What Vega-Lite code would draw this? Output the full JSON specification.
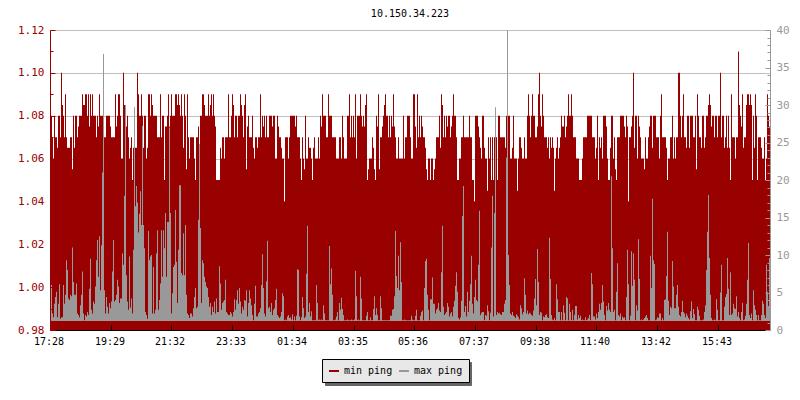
{"$schema":"https://vega.github.io/schema/vega-lite/v6.json","width":720,"height":300,"autosize":"none","padding":{"left":50,"top":30,"right":30,"bottom":70},"background":"white","title":{"text":"10.150.34.223","font":"DejaVu Sans Mono","fontSize":10,"fontWeight":"normal","color":"black","anchor":"middle","offset":5},"config":{"view":{"stroke":null},"axis":{"labelFont":"DejaVu Sans Mono","labelFontSize":11}},"data":{"values":[
{"t":0,"min":1.08,"max":1.3},{"t":1,"min":1.08,"max":6},{"t":2,"min":1.07,"max":2.2},{"t":3,"min":1.06,"max":1.7},{"t":4,"min":1.08,"max":3.5},{"t":5,"min":1.07,"max":4.4},{"t":6,"min":1.07,"max":5.1},{"t":7,"min":1.065,"max":1.7},{"t":8,"min":1.08,"max":3.5},{"t":9,"min":1.08,"max":6.1},
{"t":10,"min":1.07,"max":1.5},{"t":11,"min":1.1,"max":1.7},{"t":12,"min":1.085,"max":1.7},{"t":13,"min":1.08,"max":6},{"t":14,"min":1.07,"max":3.5},{"t":15,"min":1.09,"max":4.7},{"t":16,"min":1.07,"max":9.3},{"t":17,"min":1.065,"max":8},{"t":18,"min":1.065,"max":4.2},{"t":19,"min":1.065,"max":4},
{"t":20,"min":1.07,"max":4.7},{"t":21,"min":1.07,"max":4.5},{"t":22,"min":1.055,"max":11},{"t":23,"min":1.08,"max":6.4},{"t":24,"min":1.065,"max":4.7},{"t":25,"min":1.08,"max":4.7},{"t":26,"min":1.08,"max":6.2},{"t":27,"min":1.07,"max":2.2},{"t":28,"min":1.075,"max":2},{"t":29,"min":1.08,"max":1.7},
{"t":30,"min":1.08,"max":3.3},{"t":31,"min":1.08,"max":4.7},{"t":32,"min":1.09,"max":7.8},{"t":33,"min":1.085,"max":2.2},{"t":34,"min":1.085,"max":1.3},{"t":35,"min":1.09,"max":2},{"t":36,"min":1.09,"max":1.8},{"t":37,"min":1.08,"max":2.4},{"t":38,"min":1.09,"max":2},{"t":39,"min":1.075,"max":5.5},
{"t":40,"min":1.09,"max":9.5},{"t":41,"min":1.08,"max":2.7},{"t":42,"min":1.09,"max":2.2},{"t":43,"min":1.08,"max":3.8},{"t":44,"min":1.08,"max":3.5},{"t":45,"min":1.08,"max":5.8},{"t":46,"min":1.07,"max":9.3},{"t":47,"min":1.08,"max":12},{"t":48,"min":1.075,"max":7.1},{"t":49,"min":1.09,"max":12.5},
{"t":50,"min":1.08,"max":5.3},{"t":51,"min":1.08,"max":11.3},{"t":52,"min":1.08,"max":21},{"t":53,"min":1.07,"max":36.8},{"t":54,"min":1.07,"max":5.3},{"t":55,"min":1.07,"max":2.2},{"t":56,"min":1.08,"max":4.4},{"t":57,"min":1.08,"max":3.1},{"t":58,"min":1.08,"max":2.2},{"t":59,"min":1.08,"max":3.6},
{"t":60,"min":1.075,"max":2.9},{"t":61,"min":1.07,"max":3.8},{"t":62,"min":1.07,"max":7.8},{"t":63,"min":1.07,"max":12},{"t":64,"min":1.07,"max":3.8},{"t":65,"min":1.09,"max":4},{"t":66,"min":1.075,"max":4.7},{"t":67,"min":1.08,"max":6.7},{"t":68,"min":1.09,"max":5.8},{"t":69,"min":1.09,"max":3.6},
{"t":70,"min":1.08,"max":4.2},{"t":71,"min":1.06,"max":4.2},{"t":72,"min":1.06,"max":10.2},{"t":73,"min":1.1,"max":8.7},{"t":74,"min":1.085,"max":17.9},{"t":75,"min":1.075,"max":30},{"t":76,"min":1.075,"max":7.3},{"t":77,"min":1.08,"max":3.8},{"t":78,"min":1.07,"max":2.7},{"t":79,"min":1.06,"max":9.8},
{"t":80,"min":1.065,"max":3},{"t":81,"min":1.07,"max":4.2},{"t":82,"min":1.05,"max":2.2},{"t":83,"min":1.065,"max":10.7},{"t":84,"min":1.065,"max":29.7},{"t":85,"min":1.065,"max":16.5},{"t":86,"min":1.065,"max":19.2},{"t":87,"min":1.1,"max":17},{"t":88,"min":1.09,"max":13},{"t":89,"min":1.08,"max":15.5},
{"t":90,"min":1.08,"max":18.5},{"t":91,"min":1.09,"max":14},{"t":92,"min":1.08,"max":27.2},{"t":93,"min":1.065,"max":14},{"t":94,"min":1.08,"max":10.9},{"t":95,"min":1.08,"max":2.4},{"t":96,"min":1.06,"max":2},{"t":97,"min":1.065,"max":1.5},{"t":98,"min":1.09,"max":13.2},{"t":99,"min":1.09,"max":9.3},
{"t":100,"min":1.08,"max":9.8},{"t":101,"min":1.09,"max":10},{"t":102,"min":1.085,"max":2.2},{"t":103,"min":1.08,"max":8.4},{"t":104,"min":1.08,"max":2.2},{"t":105,"min":1.08,"max":2.7},{"t":106,"min":1.08,"max":10.2},{"t":107,"min":1.07,"max":13.3},{"t":108,"min":1.07,"max":2.7},{"t":109,"min":1.07,"max":4},
{"t":110,"min":1.09,"max":6.2},{"t":111,"min":1.07,"max":13.3},{"t":112,"min":1.08,"max":7.1},{"t":113,"min":1.08,"max":13.3},{"t":114,"min":1.05,"max":10.9},{"t":115,"min":1.075,"max":15.6},{"t":116,"min":1.075,"max":7.1},{"t":117,"min":1.08,"max":14.4},{"t":118,"min":1.09,"max":14.4},{"t":119,"min":1.075,"max":27},
{"t":120,"min":1.08,"max":15.6},{"t":121,"min":1.09,"max":2.2},{"t":122,"min":1.08,"max":4.9},{"t":123,"min":1.08,"max":8.4},{"t":124,"min":1.08,"max":8.7},{"t":125,"min":1.09,"max":16},{"t":126,"min":1.09,"max":9.1},{"t":127,"min":1.085,"max":3.6},{"t":128,"min":1.09,"max":10.7},{"t":129,"min":1.085,"max":19.3},
{"t":130,"min":1.08,"max":19.3},{"t":131,"min":1.09,"max":7.6},{"t":132,"min":1.08,"max":7.3},{"t":133,"min":1.065,"max":12.9},{"t":134,"min":1.09,"max":7.3},{"t":135,"min":1.08,"max":14},{"t":136,"min":1.055,"max":4.7},{"t":137,"min":1.09,"max":2.2},{"t":138,"min":1.07,"max":2},{"t":139,"min":1.06,"max":1.6},
{"t":140,"min":1.07,"max":2.2},{"t":141,"min":1.07,"max":2.2},{"t":142,"min":1.07,"max":1.8},{"t":143,"min":1.07,"max":2.9},{"t":144,"min":1.06,"max":4.4},{"t":145,"min":1.05,"max":5.6},{"t":146,"min":1.07,"max":2.9},{"t":147,"min":1.07,"max":3.1},{"t":148,"min":1.075,"max":14.7},{"t":149,"min":1.055,"max":24.8},
{"t":150,"min":1.08,"max":13.6},{"t":151,"min":1.08,"max":3.6},{"t":152,"min":1.09,"max":9.3},{"t":153,"min":1.09,"max":8.9},{"t":154,"min":1.085,"max":7.1},{"t":155,"min":1.08,"max":6.4},{"t":156,"min":1.08,"max":5.8},{"t":157,"min":1.08,"max":5.6},{"t":158,"min":1.09,"max":4.4},{"t":159,"min":1.08,"max":3.1},
{"t":160,"min":1.085,"max":3.6},{"t":161,"min":1.09,"max":2},{"t":162,"min":1.08,"max":3.1},{"t":163,"min":1.09,"max":2.4},{"t":164,"min":1.08,"max":3.8},{"t":165,"min":1.075,"max":2.2},{"t":166,"min":1.05,"max":4.2},{"t":167,"min":1.05,"max":2.4},{"t":168,"min":1.05,"max":2.4},{"t":169,"min":1.05,"max":8.5},
{"t":170,"min":1.065,"max":6.2},{"t":171,"min":1.06,"max":2.7},{"t":172,"min":1.07,"max":3.6},{"t":173,"min":1.07,"max":3.8},{"t":174,"min":1.06,"max":4},{"t":175,"min":1.07,"max":6.7},{"t":176,"min":1.07,"max":2.4},{"t":177,"min":1.07,"max":2.2},{"t":178,"min":1.09,"max":2},{"t":179,"min":1.07,"max":2},
{"t":180,"min":1.07,"max":2.4},{"t":181,"min":1.08,"max":2.2},{"t":182,"min":1.09,"max":1.8},{"t":183,"min":1.085,"max":2.4},{"t":184,"min":1.07,"max":4.1},{"t":185,"min":1.08,"max":2.7},{"t":186,"min":1.08,"max":4},{"t":187,"min":1.07,"max":5.3},{"t":188,"min":1.08,"max":3.5},{"t":189,"min":1.08,"max":5.6},
{"t":190,"min":1.09,"max":3.8},{"t":191,"min":1.085,"max":2.2},{"t":192,"min":1.08,"max":3.1},{"t":193,"min":1.07,"max":2.7},{"t":194,"min":1.085,"max":4},{"t":195,"min":1.09,"max":3.9},{"t":196,"min":1.055,"max":5.3},{"t":197,"min":1.075,"max":1.8},{"t":198,"min":1.08,"max":3.6},{"t":199,"min":1.07,"max":5.3},
{"t":200,"min":1.07,"max":4.2},{"t":201,"min":1.07,"max":3.3},{"t":202,"min":1.08,"max":2},{"t":203,"min":1.065,"max":1.3},{"t":204,"min":1.06,"max":3.5},{"t":205,"min":1.07,"max":5.9},{"t":206,"min":1.07,"max":1.8},{"t":207,"min":1.065,"max":1.8},{"t":208,"min":1.07,"max":2.2},{"t":209,"min":1.07,"max":2.4},
{"t":210,"min":1.09,"max":2.9},{"t":211,"min":1.07,"max":6},{"t":212,"min":1.08,"max":10.1},{"t":213,"min":1.075,"max":5.6},{"t":214,"min":1.08,"max":2.2},{"t":215,"min":1.07,"max":1.8},{"t":216,"min":1.08,"max":6.5},{"t":217,"min":1.07,"max":11.9},{"t":218,"min":1.07,"max":2.9},{"t":219,"min":1.08,"max":3.1},
{"t":220,"min":1.08,"max":2.4},{"t":221,"min":1.08,"max":3.6},{"t":222,"min":1.075,"max":2},{"t":223,"min":1.08,"max":2.7},{"t":224,"min":1.08,"max":2.9},{"t":225,"min":1.06,"max":4},{"t":226,"min":1.06,"max":5.5},{"t":227,"min":1.08,"max":2},{"t":228,"min":1.075,"max":1.8},{"t":229,"min":1.07,"max":1.6},
{"t":230,"min":1.07,"max":1.8},{"t":231,"min":1.065,"max":2.4},{"t":232,"min":1.06,"max":4.9},{"t":233,"min":1.06,"max":4.5},{"t":234,"min":1.04,"max":1.3},{"t":235,"min":1.07,"max":1.4},{"t":236,"min":1.07,"max":1.3},{"t":237,"min":1.07,"max":1.8},{"t":238,"min":1.06,"max":2},{"t":239,"min":1.07,"max":1.6},
{"t":240,"min":1.08,"max":1.7},{"t":241,"min":1.08,"max":1.4},{"t":242,"min":1.08,"max":2.1},{"t":243,"min":1.08,"max":1.3},{"t":244,"min":1.08,"max":1.8},{"t":245,"min":1.075,"max":1.3},{"t":246,"min":1.08,"max":1.9},{"t":247,"min":1.07,"max":8.1},{"t":248,"min":1.07,"max":8},{"t":249,"min":1.07,"max":1.8},
{"t":250,"min":1.06,"max":1.3},{"t":251,"min":1.05,"max":1.7},{"t":252,"min":1.07,"max":4.4},{"t":253,"min":1.06,"max":2.9},{"t":254,"min":1.055,"max":1.6},{"t":255,"min":1.08,"max":1.8},{"t":256,"min":1.06,"max":7.5},{"t":257,"min":1.06,"max":13.9},{"t":258,"min":1.07,"max":2.4},{"t":259,"min":1.065,"max":3.6},
{"t":260,"min":1.065,"max":1.8},{"t":261,"min":1.06,"max":2.5},{"t":262,"min":1.05,"max":1.3},{"t":263,"min":1.065,"max":1.3},{"t":264,"min":1.07,"max":1.3},{"t":265,"min":1.06,"max":1.3},{"t":266,"min":1.06,"max":6},{"t":267,"min":1.06,"max":3.6},{"t":268,"min":1.07,"max":1.3},{"t":269,"min":1.06,"max":1.4},
{"t":270,"min":1.08,"max":1.3},{"t":271,"min":1.075,"max":1.4},{"t":272,"min":1.09,"max":1.3},{"t":273,"min":1.08,"max":3.3},{"t":274,"min":1.08,"max":2.2},{"t":275,"min":1.08,"max":1.3},{"t":276,"min":1.07,"max":1.3},{"t":277,"min":1.07,"max":1.3},{"t":278,"min":1.09,"max":1.3},{"t":279,"min":1.08,"max":11.2},
{"t":280,"min":1.08,"max":6.1},{"t":281,"min":1.08,"max":8.2},{"t":282,"min":1.07,"max":4.7},{"t":283,"min":1.07,"max":1.3},{"t":284,"min":1.07,"max":1.3},{"t":285,"min":1.07,"max":1.4},{"t":286,"min":1.06,"max":1.8},{"t":287,"min":1.06,"max":2.4},{"t":288,"min":1.06,"max":1.3},{"t":289,"min":1.07,"max":3.6},
{"t":290,"min":1.07,"max":2.7},{"t":291,"min":1.06,"max":4.3},{"t":292,"min":1.08,"max":2.8},{"t":293,"min":1.07,"max":2},{"t":294,"min":1.06,"max":1.3},{"t":295,"min":1.06,"max":1.3},{"t":296,"min":1.06,"max":1.3},{"t":297,"min":1.08,"max":1.4},{"t":298,"min":1.08,"max":1.3},{"t":299,"min":1.09,"max":1.3},
{"t":300,"min":1.07,"max":1.3},{"t":301,"min":1.08,"max":1.4},{"t":302,"min":1.07,"max":1.3},{"t":303,"min":1.08,"max":1.3},{"t":304,"min":1.07,"max":1.4},{"t":305,"min":1.09,"max":7.9},{"t":306,"min":1.06,"max":4.5},{"t":307,"min":1.08,"max":1.3},{"t":308,"min":1.08,"max":1.4},{"t":309,"min":1.08,"max":1.3},
{"t":310,"min":1.09,"max":7.1},{"t":311,"min":1.08,"max":4.2},{"t":312,"min":1.075,"max":1.3},{"t":313,"min":1.08,"max":1.3},{"t":314,"min":1.075,"max":1.3},{"t":315,"min":1.085,"max":1.3},{"t":316,"min":1.09,"max":1.9},{"t":317,"min":1.05,"max":2.4},{"t":318,"min":1.055,"max":1.3},{"t":319,"min":1.06,"max":1.3},
{"t":320,"min":1.06,"max":1.7},{"t":321,"min":1.06,"max":1.3},{"t":322,"min":1.07,"max":1.3},{"t":323,"min":1.065,"max":2.8},{"t":324,"min":1.055,"max":4.5},{"t":325,"min":1.05,"max":2},{"t":326,"min":1.08,"max":2.9},{"t":327,"min":1.075,"max":2},{"t":328,"min":1.09,"max":1.3},{"t":329,"min":1.055,"max":1.3},
{"t":330,"min":1.07,"max":4.5},{"t":331,"min":1.07,"max":2.9},{"t":332,"min":1.075,"max":1.3},{"t":333,"min":1.08,"max":1.3},{"t":334,"min":1.085,"max":1.3},{"t":335,"min":1.09,"max":1.3},{"t":336,"min":1.08,"max":1.3},{"t":337,"min":1.08,"max":1.3},{"t":338,"min":1.07,"max":1.3},{"t":339,"min":1.08,"max":1.3},
{"t":340,"min":1.07,"max":1.9},{"t":341,"min":1.08,"max":1.9},{"t":342,"min":1.075,"max":2.7},{"t":343,"min":1.09,"max":2.8},{"t":344,"min":1.075,"max":4.5},{"t":345,"min":1.07,"max":13.2},{"t":346,"min":1.06,"max":7.2},{"t":347,"min":1.06,"max":5.6},{"t":348,"min":1.07,"max":9.9},{"t":349,"min":1.06,"max":5.3},
{"t":350,"min":1.06,"max":11.7},{"t":351,"min":1.06,"max":6.4},{"t":352,"min":1.06,"max":1.3},{"t":353,"min":1.08,"max":1.3},{"t":354,"min":1.06,"max":1.4},{"t":355,"min":1.07,"max":1.3},{"t":356,"min":1.07,"max":1.3},{"t":357,"min":1.08,"max":1.3},{"t":358,"min":1.08,"max":1.3},{"t":359,"min":1.08,"max":1.3},
{"t":360,"min":1.07,"max":1.3},{"t":361,"min":1.06,"max":1.9},{"t":362,"min":1.06,"max":1.4},{"t":363,"min":1.09,"max":1.3},{"t":364,"min":1.09,"max":1.3},{"t":365,"min":1.075,"max":1.9},{"t":366,"min":1.065,"max":2.7},{"t":367,"min":1.09,"max":1.3},{"t":368,"min":1.07,"max":1.3},{"t":369,"min":1.08,"max":1.3},
{"t":370,"min":1.07,"max":1.9},{"t":371,"min":1.08,"max":2.4},{"t":372,"min":1.075,"max":2.6},{"t":373,"min":1.07,"max":1.3},{"t":374,"min":1.07,"max":5.6},{"t":375,"min":1.065,"max":9.2},{"t":376,"min":1.055,"max":9.5},{"t":377,"min":1.05,"max":4.7},{"t":378,"min":1.06,"max":2.7},{"t":379,"min":1.06,"max":1.3},
{"t":380,"min":1.05,"max":4.1},{"t":381,"min":1.06,"max":4.1},{"t":382,"min":1.06,"max":7},{"t":383,"min":1.05,"max":3.5},{"t":384,"min":1.055,"max":3.5},{"t":385,"min":1.06,"max":2.2},{"t":386,"min":1.07,"max":2.7},{"t":387,"min":1.07,"max":2.9},{"t":388,"min":1.07,"max":3.6},{"t":389,"min":1.08,"max":2.6},
{"t":390,"min":1.065,"max":2.4},{"t":391,"min":1.09,"max":7.7},{"t":392,"min":1.085,"max":13.9},{"t":393,"min":1.07,"max":3.1},{"t":394,"min":1.08,"max":2},{"t":395,"min":1.07,"max":2.2},{"t":396,"min":1.08,"max":2.4},{"t":397,"min":1.075,"max":3.6},{"t":398,"min":1.08,"max":3.1},{"t":399,"min":1.08,"max":1.8},
{"t":400,"min":1.07,"max":2.2},{"t":401,"min":1.075,"max":2.4},{"t":402,"min":1.08,"max":1.8},{"t":403,"min":1.09,"max":3.1},{"t":404,"min":1.08,"max":3.9},{"t":405,"min":1.08,"max":5.9},{"t":406,"min":1.07,"max":7.7},{"t":407,"min":1.05,"max":5.1},{"t":408,"min":1.05,"max":1.6},{"t":409,"min":1.06,"max":1.4},
{"t":410,"min":1.06,"max":1.7},{"t":411,"min":1.07,"max":3.9},{"t":412,"min":1.07,"max":15.2},{"t":413,"min":1.08,"max":19.2},{"t":414,"min":1.07,"max":2.4},{"t":415,"min":1.07,"max":3.2},{"t":416,"min":1.07,"max":1.8},{"t":417,"min":1.07,"max":5.1},{"t":418,"min":1.07,"max":2.4},{"t":419,"min":1.08,"max":3.9},
{"t":420,"min":1.07,"max":6.1},{"t":421,"min":1.07,"max":9.9},{"t":422,"min":1.05,"max":3.5},{"t":423,"min":1.05,"max":2.2},{"t":424,"min":1.04,"max":4.4},{"t":425,"min":1.08,"max":6.7},{"t":426,"min":1.08,"max":4},{"t":427,"min":1.08,"max":3.8},{"t":428,"min":1.075,"max":8.7},{"t":429,"min":1.07,"max":15.9},
{"t":430,"min":1.065,"max":2},{"t":431,"min":1.06,"max":2.3},{"t":432,"min":1.08,"max":2.4},{"t":433,"min":1.08,"max":2.4},{"t":434,"min":1.065,"max":1.3},{"t":435,"min":1.06,"max":2},{"t":436,"min":1.06,"max":1.9},{"t":437,"min":1.045,"max":3.3},{"t":438,"min":1.07,"max":2.5},{"t":439,"min":1.06,"max":1.3},
{"t":440,"min":1.07,"max":2.3},{"t":441,"min":1.05,"max":11},{"t":442,"min":1.07,"max":17.9},{"t":443,"min":1.05,"max":1.8},{"t":444,"min":1.07,"max":15.6},{"t":445,"min":1.06,"max":29.7},{"t":446,"min":1.07,"max":2},{"t":447,"min":1.05,"max":2.4},{"t":448,"min":1.08,"max":2.2},{"t":449,"min":1.08,"max":2.3},
{"t":450,"min":1.07,"max":2.1},{"t":451,"min":1.07,"max":2},{"t":452,"min":1.07,"max":2.4},{"t":453,"min":1.07,"max":2.4},{"t":454,"min":1.07,"max":3.5},{"t":455,"min":1.065,"max":4},{"t":456,"min":1.08,"max":23},{"t":457,"min":1.07,"max":40},{"t":458,"min":1.08,"max":10},{"t":459,"min":1.08,"max":6},
{"t":460,"min":1.06,"max":2.2},{"t":461,"min":1.06,"max":2},{"t":462,"min":1.065,"max":2.4},{"t":463,"min":1.08,"max":1.9},{"t":464,"min":1.06,"max":1.8},{"t":465,"min":1.06,"max":1.6},{"t":466,"min":1.06,"max":2.1},{"t":467,"min":1.045,"max":1.9},{"t":468,"min":1.06,"max":1.7},{"t":469,"min":1.07,"max":1.4},
{"t":470,"min":1.07,"max":3.3},{"t":471,"min":1.065,"max":2.9},{"t":472,"min":1.06,"max":2.1},{"t":473,"min":1.06,"max":2.4},{"t":474,"min":1.07,"max":6.9},{"t":475,"min":1.06,"max":4.7},{"t":476,"min":1.06,"max":2.2},{"t":477,"min":1.08,"max":2.6},{"t":478,"min":1.09,"max":2.1},{"t":479,"min":1.08,"max":2.3},
{"t":480,"min":1.07,"max":2.2},{"t":481,"min":1.08,"max":2},{"t":482,"min":1.09,"max":1.9},{"t":483,"min":1.08,"max":2.6},{"t":484,"min":1.08,"max":4.2},{"t":485,"min":1.07,"max":6.8},{"t":486,"min":1.07,"max":3.3},{"t":487,"min":1.075,"max":10.8},{"t":488,"min":1.09,"max":6.4},{"t":489,"min":1.1,"max":2},
{"t":490,"min":1.08,"max":2.4},{"t":491,"min":1.075,"max":2.3},{"t":492,"min":1.09,"max":1.3},{"t":493,"min":1.08,"max":1.8},{"t":494,"min":1.07,"max":1.7},{"t":495,"min":1.07,"max":2},{"t":496,"min":1.07,"max":2.1},{"t":497,"min":1.065,"max":1.7},{"t":498,"min":1.07,"max":1.6},{"t":499,"min":1.06,"max":12.3},
{"t":500,"min":1.07,"max":6.8},{"t":501,"min":1.065,"max":2},{"t":502,"min":1.07,"max":1.4},{"t":503,"min":1.065,"max":1.3},{"t":504,"min":1.045,"max":1.6},{"t":505,"min":1.06,"max":1.3},{"t":506,"min":1.065,"max":6.1},{"t":507,"min":1.07,"max":4.1},{"t":508,"min":1.06,"max":2.4},{"t":509,"min":1.065,"max":2.4},
{"t":510,"min":1.07,"max":1.3},{"t":511,"min":1.08,"max":2.4},{"t":512,"min":1.075,"max":1.3},{"t":513,"min":1.075,"max":3.3},{"t":514,"min":1.08,"max":2.3},{"t":515,"min":1.07,"max":1.3},{"t":516,"min":1.075,"max":4.4},{"t":517,"min":1.08,"max":4.2},{"t":518,"min":1.09,"max":1.3},{"t":519,"min":1.08,"max":3.5},
{"t":520,"min":1.08,"max":2.4},{"t":521,"min":1.09,"max":1.3},{"t":522,"min":1.08,"max":2.7},{"t":523,"min":1.07,"max":1.3},{"t":524,"min":1.07,"max":2},{"t":525,"min":1.07,"max":3.2},{"t":526,"min":1.06,"max":3.2},{"t":527,"min":1.06,"max":1.4},{"t":528,"min":1.06,"max":2},{"t":529,"min":1.05,"max":1.6},
{"t":530,"min":1.05,"max":1.9},{"t":531,"min":1.05,"max":1.3},{"t":532,"min":1.06,"max":1.4},{"t":533,"min":1.07,"max":1.3},{"t":534,"min":1.07,"max":1.3},{"t":535,"min":1.07,"max":1.7},{"t":536,"min":1.07,"max":1.3},{"t":537,"min":1.08,"max":1.4},{"t":538,"min":1.08,"max":1.6},{"t":539,"min":1.08,"max":2},
{"t":540,"min":1.08,"max":1.3},{"t":541,"min":1.08,"max":7.6},{"t":542,"min":1.07,"max":6.1},{"t":543,"min":1.07,"max":1.8},{"t":544,"min":1.07,"max":1.8},{"t":545,"min":1.06,"max":1.4},{"t":546,"min":1.065,"max":2.2},{"t":547,"min":1.08,"max":1.6},{"t":548,"min":1.05,"max":2.4},{"t":549,"min":1.07,"max":3.5},
{"t":550,"min":1.065,"max":2.7},{"t":551,"min":1.07,"max":3.6},{"t":552,"min":1.06,"max":6},{"t":553,"min":1.08,"max":3.8},{"t":554,"min":1.08,"max":2},{"t":555,"min":1.08,"max":1.3},{"t":556,"min":1.075,"max":3.2},{"t":557,"min":1.06,"max":2.6},{"t":558,"min":1.05,"max":3.6},{"t":559,"min":1.05,"max":2.7},
{"t":560,"min":1.065,"max":2.4},{"t":561,"min":1.08,"max":20.5},{"t":562,"min":1.08,"max":10.9},{"t":563,"min":1.06,"max":2.4},{"t":564,"min":1.07,"max":2.7},{"t":565,"min":1.055,"max":1.3},{"t":566,"min":1.05,"max":5.1},{"t":567,"min":1.07,"max":8.9},{"t":568,"min":1.07,"max":2},{"t":569,"min":1.07,"max":1.8},
{"t":570,"min":1.08,"max":2.2},{"t":571,"min":1.08,"max":1.3},{"t":572,"min":1.08,"max":1.8},{"t":573,"min":1.08,"max":1.6},{"t":574,"min":1.075,"max":1.7},{"t":575,"min":1.07,"max":1.3},{"t":576,"min":1.08,"max":4.4},{"t":577,"min":1.075,"max":10.7},{"t":578,"min":1.04,"max":6.1},{"t":579,"min":1.07,"max":1.3},
{"t":580,"min":1.07,"max":1.9},{"t":581,"min":1.075,"max":10.5},{"t":582,"min":1.08,"max":5.9},{"t":583,"min":1.1,"max":10.2},{"t":584,"min":1.065,"max":6.7},{"t":585,"min":1.08,"max":1.3},{"t":586,"min":1.08,"max":3.3},{"t":587,"min":1.06,"max":2.6},{"t":588,"min":1.08,"max":12.1},{"t":589,"min":1.075,"max":6.8},
{"t":590,"min":1.07,"max":1.3},{"t":591,"min":1.06,"max":1.4},{"t":592,"min":1.06,"max":1.3},{"t":593,"min":1.06,"max":1.4},{"t":594,"min":1.055,"max":1.6},{"t":595,"min":1.07,"max":1.8},{"t":596,"min":1.06,"max":2},{"t":597,"min":1.06,"max":1.6},{"t":598,"min":1.07,"max":1.3},{"t":599,"min":1.075,"max":1.3},
{"t":600,"min":1.08,"max":9.9},{"t":601,"min":1.08,"max":5.6},{"t":602,"min":1.065,"max":17.5},{"t":603,"min":1.08,"max":9.3},{"t":604,"min":1.08,"max":8.8},{"t":605,"min":1.08,"max":1.3},{"t":606,"min":1.07,"max":1.4},{"t":607,"min":1.07,"max":1.7},{"t":608,"min":1.07,"max":1.6},{"t":609,"min":1.06,"max":2.2},
{"t":610,"min":1.08,"max":2.2},{"t":611,"min":1.09,"max":1.3},{"t":612,"min":1.07,"max":1.6},{"t":613,"min":1.07,"max":1.3},{"t":614,"min":1.07,"max":4},{"t":615,"min":1.07,"max":4.1},{"t":616,"min":1.065,"max":7.2},{"t":617,"min":1.05,"max":13.1},{"t":618,"min":1.06,"max":3.9},{"t":619,"min":1.06,"max":2},
{"t":620,"min":1.07,"max":3.1},{"t":621,"min":1.07,"max":2.9},{"t":622,"min":1.08,"max":9.2},{"t":623,"min":1.06,"max":5.8},{"t":624,"min":1.07,"max":2.9},{"t":625,"min":1.06,"max":2.9},{"t":626,"min":1.07,"max":4.7},{"t":627,"min":1.07,"max":6},{"t":628,"min":1.1,"max":3.1},{"t":629,"min":1.1,"max":2},
{"t":630,"min":1.08,"max":1.8},{"t":631,"min":1.07,"max":2.4},{"t":632,"min":1.08,"max":3.9},{"t":633,"min":1.09,"max":2.4},{"t":634,"min":1.07,"max":2.2},{"t":635,"min":1.07,"max":1.7},{"t":636,"min":1.065,"max":2.2},{"t":637,"min":1.08,"max":1.9},{"t":638,"min":1.08,"max":1.6},{"t":639,"min":1.065,"max":1.4},
{"t":640,"min":1.08,"max":2.5},{"t":641,"min":1.08,"max":3.8},{"t":642,"min":1.08,"max":1.6},{"t":643,"min":1.07,"max":2.8},{"t":644,"min":1.07,"max":2.1},{"t":645,"min":1.08,"max":1.3},{"t":646,"min":1.055,"max":1.3},{"t":647,"min":1.09,"max":3.1},{"t":648,"min":1.08,"max":2.7},{"t":649,"min":1.07,"max":1.9},
{"t":650,"min":1.07,"max":1.3},{"t":651,"min":1.065,"max":1.3},{"t":652,"min":1.08,"max":1.3},{"t":653,"min":1.08,"max":1.4},{"t":654,"min":1.065,"max":2.4},{"t":655,"min":1.07,"max":3.3},{"t":656,"min":1.08,"max":8},{"t":657,"min":1.08,"max":13.1},{"t":658,"min":1.085,"max":18},{"t":659,"min":1.09,"max":9.6},
{"t":660,"min":1.085,"max":4.7},{"t":661,"min":1.075,"max":1.6},{"t":662,"min":1.08,"max":1.3},{"t":663,"min":1.08,"max":1.3},{"t":664,"min":1.07,"max":1.4},{"t":665,"min":1.08,"max":1.3},{"t":666,"min":1.08,"max":4.1},{"t":667,"min":1.07,"max":2.7},{"t":668,"min":1.08,"max":1.3},{"t":669,"min":1.08,"max":1.3},
{"t":670,"min":1.1,"max":5},{"t":671,"min":1.07,"max":8.7},{"t":672,"min":1.08,"max":1.3},{"t":673,"min":1.08,"max":1.3},{"t":674,"min":1.065,"max":3.1},{"t":675,"min":1.07,"max":4.4},{"t":676,"min":1.08,"max":4.8},{"t":677,"min":1.065,"max":9.6},{"t":678,"min":1.08,"max":5.5},{"t":679,"min":1.065,"max":2},
{"t":680,"min":1.05,"max":7.7},{"t":681,"min":1.09,"max":2},{"t":682,"min":1.07,"max":2.2},{"t":683,"min":1.07,"max":3.5},{"t":684,"min":1.07,"max":2.9},{"t":685,"min":1.06,"max":2.8},{"t":686,"min":1.07,"max":4.5},{"t":687,"min":1.07,"max":1.8},{"t":688,"min":1.11,"max":2.4},{"t":689,"min":1.085,"max":1.6},
{"t":690,"min":1.08,"max":1.3},{"t":691,"min":1.075,"max":2.4},{"t":692,"min":1.09,"max":3.6},{"t":693,"min":1.065,"max":1.3},{"t":694,"min":1.07,"max":1.4},{"t":695,"min":1.07,"max":1.9},{"t":696,"min":1.085,"max":3.5},{"t":697,"min":1.09,"max":6.7},{"t":698,"min":1.09,"max":11.6},{"t":699,"min":1.085,"max":2},
{"t":700,"min":1.09,"max":1.6},{"t":701,"min":1.085,"max":2.2},{"t":702,"min":1.05,"max":1.3},{"t":703,"min":1.08,"max":5.3},{"t":704,"min":1.065,"max":3.3},{"t":705,"min":1.09,"max":2.7},{"t":706,"min":1.08,"max":2},{"t":707,"min":1.05,"max":1.3},{"t":708,"min":1.07,"max":2},{"t":709,"min":1.07,"max":1.3},
{"t":710,"min":1.07,"max":1.3},{"t":711,"min":1.065,"max":2},{"t":712,"min":1.06,"max":3.9},{"t":713,"min":1.06,"max":3.5},{"t":714,"min":1.07,"max":2},{"t":715,"min":1.05,"max":1.6},{"t":716,"min":1.06,"max":8.7},{"t":717,"min":1.09,"max":5.1},{"t":718,"min":1.08,"max":3.2},{"t":719,"min":1.075,"max":9.6}
]},
"encoding":{"x":{"field":"t","type":"ordinal","scale":{"type":"band","paddingInner":0,"paddingOuter":0},"title":null,"axis":{"values":[0,61,121,182,243,304,364,425,486,546,607,668],"labelExpr":"{'0':'17:28','61':'19:29','121':'21:32','182':'23:33','243':'01:34','304':'03:35','364':'05:36','425':'07:37','486':'09:38','546':'11:40','607':'13:42','668':'15:43'}[datum.value]","bandPosition":0,"labelAngle":0,"labelOffset":-1.5,"labelFontSize":10,"labelColor":"black","labelOverlap":false,"domainColor":"black","tickColor":"black","tickSize":-5,"labelPadding":11,"zindex":2}}},
"layer":[
{"transform":[{"filter":"datum.t==0"}],"mark":{"type":"bar","opacity":0},"encoding":{"y":{"field":"min","type":"quantitative","scale":{"domain":[0.98,1.12],"nice":false,"zero":false},"title":null,"axis":{"orient":"left","values":[0.98,1.0,1.02,1.04,1.06,1.08,1.1,1.12],"labels":false,"ticks":false,"domain":false,"grid":true,"gridColor":"#bfbfbf","zindex":0}},"y2":{"datum":0.98}}},
{"mark":{"type":"bar"},"encoding":{"y":{"field":"min","type":"quantitative","scale":{"domain":[0.98,1.12],"nice":false,"zero":false},"title":null,"axis":{"orient":"left","values":[0.98,0.99,1.0,1.01,1.02,1.03,1.04,1.05,1.06,1.07,1.08,1.09,1.1,1.11,1.12],"labelExpr":"round(datum.value*100)%2==0?format(datum.value,'.2f'):''","labelOverlap":false,"labelColor":"#990000","domainColor":"#990000","tickColor":"#990000","tickSize":{"condition":{"test":"round(datum.value*100)%2==0","value":-5},"value":-3},"labelPadding":11,"grid":false,"zindex":2}},"y2":{"datum":0.98},"color":{"datum":"min ping","type":"nominal","scale":{"domain":["min ping","max ping"],"range":["#990000","#999999"]},"legend":{"orient":"none","legendX":272,"legendY":329,"direction":"horizontal","columns":2,"gridAlign":"each","title":null,"fillColor":"#e8e8e8","strokeColor":"black","padding":6,"columnPadding":5,"symbolOffset":0,"labelOffset":4,"symbolType":"M-1,-0.2H1V0.2H-1Z","symbolSize":100,"labelFont":"DejaVu Sans Mono","labelFontSize":10,"labelColor":"black","labelExpr":"datum.label=='max ping'?'max ping\u00a0\u00a0':datum.label","zindex":3}},"opacity":{"datum":"min","type":"nominal","scale":{"domain":["min","max"],"range":[1,1]},"legend":{"orient":"none","legendX":275,"legendY":332,"direction":"horizontal","columns":2,"gridAlign":"each","title":null,"fillColor":"#666666","strokeColor":"#666666","padding":6,"columnPadding":104,"symbolOffset":0,"labelOffset":0,"symbolType":"M-1,-0.2H1V0.2H-1Z","symbolSize":100,"symbolFillColor":"#666666","labelFont":"DejaVu Sans Mono","labelFontSize":10,"labelColor":"#666666","labelExpr":"'\u00a0'","zindex":1}}}},
{"mark":{"type":"bar"},"encoding":{"y":{"field":"max","type":"quantitative","scale":{"domain":[0,40],"nice":false,"zero":false},"title":null,"axis":{"orient":"right","values":[0,1,2,3,4,5,6,7,8,9,10,11,12,13,14,15,16,17,18,19,20,21,22,23,24,25,26,27,28,29,30,31,32,33,34,35,36,37,38,39,40],"labelExpr":"datum.value%5==0?format(datum.value,'d'):''","labelOverlap":false,"labelColor":"#999999","domainColor":"#999999","tickColor":"#999999","tickSize":{"condition":{"test":"datum.value%5==0","value":-5},"value":-3},"labelPadding":11,"grid":false,"zindex":2}},"y2":{"datum":1.2},"color":{"datum":"max ping","type":"nominal"},"opacity":{"datum":"max","type":"nominal"}}}
],
"resolve":{"scale":{"y":"independent"}}}
